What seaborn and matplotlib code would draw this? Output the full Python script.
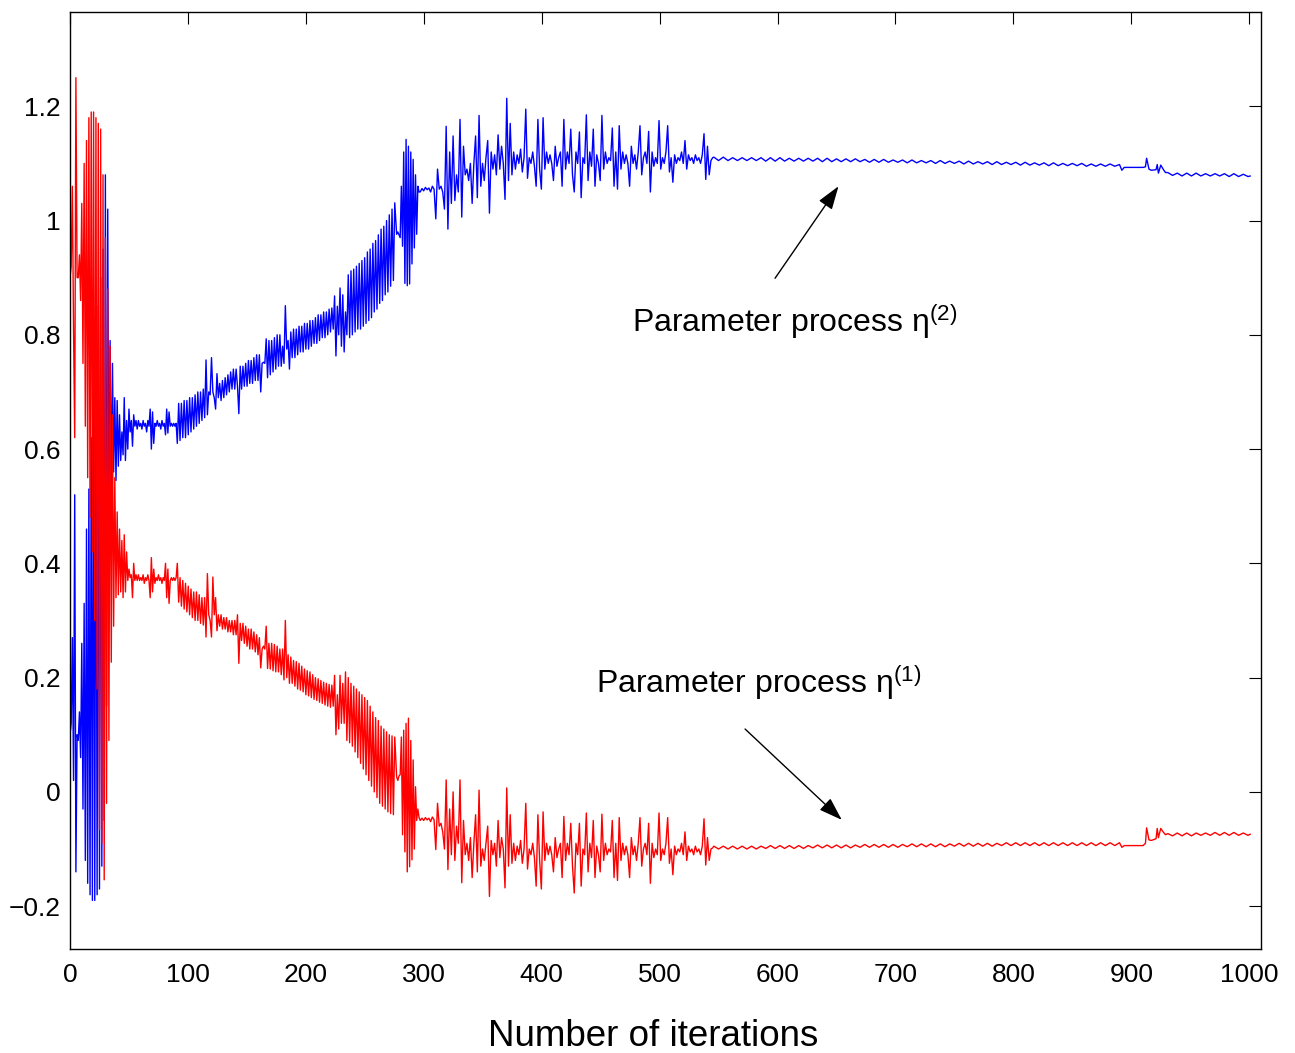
import numpy as np
import matplotlib.pyplot as plt
import seaborn as sns

# ---- values ----
# each stretch: (first iteration, last iteration) and the values sampled evenly across it

# start-up transient
span_a = (0, 36)
eta2_a = [0.10, 0.12, 0.27, 0.02, 0.52, -0.14, 0.10, 0.09, 0.14, 0.06,
          0.26, -0.03, 0.33, -0.12, 0.46, -0.16, 0.53, -0.18, 0.62, -0.19,
          0.70, -0.19, 0.78, -0.18, 0.85, -0.17, 0.90, -0.13, 0.95, -0.05,
          1.08, 0.15, 1.02, 0.40, 0.79, 0.50, 0.75]
eta1_a = [0.90, 0.92, 1.06, 0.81, 0.62, 1.25, 0.90, 0.90, 0.94, 0.86,
          1.03, 0.75, 1.10, 0.64, 1.14, 0.55, 1.18, 0.48, 1.19, 0.42,
          1.19, 0.30, 1.18, 0.18, 1.17, -0.066, 1.16, -0.09, 1.08, -0.154,
          0.97, -0.02, 0.88, 0.09, 0.78, 0.227, 0.66]

# settling plateau
span_b = (37, 90)
eta2_b = [0.56, 0.69, 0.545, 0.685, 0.57, 0.66, 0.58, 0.63, 0.59, 0.69,
          0.58, 0.65, 0.60, 0.67, 0.63, 0.65, 0.605, 0.66, 0.64, 0.65,
          0.635, 0.65, 0.64, 0.645, 0.635, 0.65, 0.64, 0.645, 0.63, 0.65,
          0.64, 0.67, 0.60, 0.665, 0.61, 0.645, 0.64, 0.65, 0.64, 0.645,
          0.635, 0.65, 0.64, 0.645, 0.625, 0.67, 0.628, 0.665, 0.64, 0.645,
          0.64, 0.645, 0.64, 0.645]
eta1_b = [0.29, 0.55, 0.34, 0.49, 0.345, 0.46, 0.35, 0.44, 0.34, 0.45,
          0.35, 0.42, 0.37, 0.39, 0.375, 0.38, 0.34, 0.40, 0.37, 0.38,
          0.37, 0.38, 0.37, 0.375, 0.37, 0.38, 0.365, 0.375, 0.37, 0.38,
          0.37, 0.34, 0.41, 0.35, 0.39, 0.365, 0.375, 0.37, 0.38, 0.37,
          0.375, 0.365, 0.375, 0.37, 0.40, 0.34, 0.39, 0.33, 0.37, 0.375,
          0.37, 0.375, 0.37, 0.375]

# drifting ramp
span_c = (91, 275.4)
eta2_c = [0.61, 0.68, 0.615, 0.68, 0.62, 0.685, 0.62, 0.685, 0.625, 0.69,
          0.63, 0.69, 0.635, 0.695, 0.64, 0.70, 0.645, 0.70, 0.65, 0.705,
          0.655, 0.756, 0.66, 0.70, 0.695, 0.76, 0.70, 0.69, 0.67, 0.732,
          0.69, 0.715, 0.685, 0.72, 0.69, 0.725, 0.695, 0.73, 0.70, 0.735,
          0.705, 0.74, 0.705, 0.74, 0.71, 0.662, 0.745, 0.705, 0.745, 0.71,
          0.75, 0.71, 0.755, 0.715, 0.755, 0.715, 0.76, 0.72, 0.765, 0.72,
          0.765, 0.70, 0.75, 0.752, 0.75, 0.793, 0.725, 0.79, 0.73, 0.79,
          0.735, 0.795, 0.74, 0.80, 0.745, 0.80, 0.745, 0.78, 0.75, 0.851,
          0.775, 0.79, 0.74, 0.805, 0.76, 0.81, 0.76, 0.81, 0.765, 0.815,
          0.77, 0.815, 0.77, 0.82, 0.775, 0.82, 0.775, 0.825, 0.78, 0.825,
          0.785, 0.83, 0.785, 0.835, 0.79, 0.835, 0.795, 0.84, 0.795, 0.84,
          0.80, 0.845, 0.805, 0.847, 0.81, 0.868, 0.763, 0.85, 0.80, 0.882,
          0.78, 0.87, 0.77, 0.84, 0.80, 0.905, 0.795, 0.912, 0.80, 0.915,
          0.805, 0.92, 0.81, 0.925, 0.81, 0.93, 0.815, 0.935, 0.82, 0.945,
          0.825, 0.95, 0.83, 0.96, 0.84, 0.965, 0.845, 0.975, 0.855, 0.985,
          0.86, 0.99, 0.87, 1.00, 0.875, 1.01, 0.885, 1.02, 0.895, 1.031]
eta1_c = [0.40, 0.332, 0.375, 0.325, 0.37, 0.32, 0.365, 0.315, 0.36, 0.31,
          0.355, 0.305, 0.35, 0.30, 0.35, 0.30, 0.345, 0.295, 0.34, 0.292,
          0.34, 0.271, 0.382, 0.31, 0.30, 0.271, 0.376, 0.31, 0.34, 0.282,
          0.31, 0.29, 0.31, 0.285, 0.305, 0.285, 0.305, 0.28, 0.30, 0.28,
          0.30, 0.275, 0.30, 0.275, 0.31, 0.225, 0.295, 0.265, 0.295, 0.26,
          0.29, 0.255, 0.285, 0.25, 0.285, 0.25, 0.28, 0.245, 0.275, 0.24,
          0.27, 0.217, 0.25, 0.255, 0.25, 0.29, 0.216, 0.26, 0.215, 0.26,
          0.212, 0.258, 0.21, 0.255, 0.21, 0.25, 0.205, 0.25, 0.196, 0.30,
          0.20, 0.24, 0.19, 0.236, 0.19, 0.23, 0.185, 0.228, 0.18, 0.225,
          0.178, 0.22, 0.175, 0.215, 0.17, 0.212, 0.168, 0.21, 0.165, 0.205,
          0.162, 0.20, 0.16, 0.198, 0.157, 0.195, 0.155, 0.192, 0.152, 0.19,
          0.15, 0.188, 0.148, 0.187, 0.15, 0.204, 0.10, 0.17, 0.11, 0.204,
          0.12, 0.19, 0.12, 0.21, 0.09, 0.20, 0.086, 0.19, 0.08, 0.185,
          0.07, 0.18, 0.06, 0.175, 0.05, 0.17, 0.04, 0.165, 0.03, 0.16,
          0.02, 0.15, 0.01, 0.14, 0.0, 0.13, -0.01, 0.125, -0.02, 0.115,
          -0.025, 0.11, -0.03, 0.105, -0.035, 0.10, -0.038, 0.098, -0.04, 0.096]

# large swing before the jump
span_d = (277, 296)
eta2_d = [0.976, 0.98, 0.975, 0.97, 1.06, 0.955, 1.12, 0.89, 1.142, 0.886,
          1.13, 0.889, 1.12, 0.924, 1.107, 0.952, 1.08, 0.976, 1.06, 1.05]
eta1_d = [0.026, 0.02, 0.028, 0.03, 0.096, -0.075, 0.108, -0.105, 0.12, -0.14,
          0.129, -0.131, 0.09, -0.119, 0.056, -0.10, 0.009, -0.05, -0.03, -0.045]

# noisy plateau
span_e = (297, 545)
eta2_e = [1.05, 1.056, 1.052, 1.058, 1.054, 1.057, 1.05, 1.06, 1.055, 1.003,
          1.09, 1.055, 1.06, 1.05, 1.02, 1.165, 0.985, 1.12, 1.03, 1.148,
          1.035, 1.08, 1.05, 1.177, 1.006, 1.13, 1.08, 1.09, 1.07, 1.10,
          1.03, 1.10, 1.148, 1.04, 1.184, 1.06, 1.10, 1.07, 1.11, 1.14,
          1.013, 1.12, 1.09, 1.115, 1.08, 1.15, 1.09, 1.13, 1.10, 1.037,
          1.214, 1.07, 1.17, 1.08, 1.12, 1.09, 1.115, 1.10, 1.125, 1.085,
          1.11, 1.195, 1.074, 1.11, 1.10, 1.12, 1.095, 1.06, 1.177, 1.09,
          1.055, 1.18, 1.09, 1.12, 1.10, 1.115, 1.10, 1.07, 1.13, 1.095,
          1.11, 1.12, 1.06, 1.177, 1.09, 1.12, 1.10, 1.16, 1.08, 1.05,
          1.12, 1.10, 1.155, 1.04, 1.11, 1.10, 1.185, 1.07, 1.12, 1.095,
          1.16, 1.06, 1.115, 1.10, 1.07, 1.184, 1.09, 1.12, 1.10, 1.11,
          1.105, 1.162, 1.06, 1.12, 1.055, 1.166, 1.09, 1.12, 1.10, 1.115,
          1.10, 1.06, 1.13, 1.10, 1.115, 1.09, 1.12, 1.166, 1.08, 1.11,
          1.12, 1.10, 1.156, 1.05, 1.12, 1.095, 1.11, 1.10, 1.175, 1.09,
          1.11, 1.10, 1.12, 1.166, 1.085, 1.11, 1.067, 1.115, 1.10, 1.11,
          1.105, 1.12, 1.10, 1.14, 1.09, 1.115, 1.105, 1.11, 1.10, 1.115,
          1.105, 1.11, 1.10, 1.115, 1.152, 1.072, 1.13, 1.08, 1.105, 1.11]
eta1_e = [-0.05, -0.046, -0.05, -0.045, -0.049, -0.046, -0.052, -0.044, -0.049, -0.101,
          -0.02, -0.06, -0.055, -0.07, -0.10, 0.021, -0.136, -0.03, -0.11, 0.0,
          -0.12, -0.06, -0.09, 0.021, -0.159, -0.05, -0.11, -0.09, -0.12, -0.08,
          -0.15, -0.09, -0.04, -0.14, 0.003, -0.13, -0.10, -0.12, -0.09, -0.06,
          -0.183, -0.085, -0.11, -0.09, -0.13, -0.05, -0.115, -0.08, -0.10, -0.168,
          0.007, -0.13, -0.04, -0.125, -0.09, -0.12, -0.095, -0.11, -0.085, -0.125,
          -0.10, -0.02, -0.135, -0.10, -0.11, -0.09, -0.115, -0.165, -0.04, -0.12,
          -0.17, -0.035, -0.12, -0.09, -0.11, -0.095, -0.11, -0.14, -0.08, -0.115,
          -0.10, -0.09, -0.15, -0.043, -0.12, -0.09, -0.11, -0.055, -0.13, -0.177,
          -0.09, -0.11, -0.055, -0.165, -0.10, -0.11, -0.037, -0.14, -0.09, -0.115,
          -0.05, -0.15, -0.095, -0.11, -0.14, -0.039, -0.12, -0.09, -0.11, -0.10,
          -0.105, -0.05, -0.15, -0.09, -0.155, -0.045, -0.12, -0.09, -0.11, -0.095,
          -0.11, -0.15, -0.08, -0.11, -0.095, -0.12, -0.09, -0.045, -0.13, -0.10,
          -0.09, -0.11, -0.055, -0.16, -0.09, -0.115, -0.10, -0.11, -0.037, -0.12,
          -0.10, -0.11, -0.09, -0.045, -0.125, -0.10, -0.145, -0.095, -0.11, -0.10,
          -0.105, -0.09, -0.11, -0.07, -0.12, -0.095, -0.105, -0.10, -0.11, -0.095,
          -0.105, -0.10, -0.11, -0.095, -0.047, -0.128, -0.08, -0.12, -0.10, -0.098]

# converged, small ripple
span_f = (546, 890)
eta2_f = [1.111, 1.105, 1.111, 1.105, 1.110, 1.105, 1.110, 1.105, 1.110, 1.105,
          1.110, 1.104, 1.110, 1.104, 1.110, 1.104, 1.109, 1.104, 1.109, 1.104,
          1.109, 1.104, 1.109, 1.103, 1.109, 1.103, 1.108, 1.103, 1.108, 1.103,
          1.108, 1.103, 1.107, 1.102, 1.107, 1.102, 1.107, 1.102, 1.106, 1.102,
          1.106, 1.101, 1.106, 1.101, 1.105, 1.101, 1.105, 1.100, 1.105, 1.100,
          1.104, 1.100, 1.104, 1.099, 1.104, 1.099, 1.103, 1.099, 1.103, 1.098,
          1.103, 1.098, 1.102, 1.098, 1.102, 1.097, 1.102, 1.097, 1.101, 1.097,
          1.101, 1.096, 1.101, 1.096, 1.100, 1.096, 1.100, 1.096, 1.100, 1.095,
          1.099, 1.095, 1.099, 1.095, 1.099, 1.095, 1.098]
eta1_f = [-0.095, -0.100, -0.095, -0.100, -0.095, -0.100, -0.095, -0.100, -0.095, -0.100,
          -0.095, -0.099, -0.094, -0.099, -0.094, -0.099, -0.094, -0.099, -0.094, -0.099,
          -0.094, -0.098, -0.093, -0.098, -0.093, -0.098, -0.093, -0.098, -0.093, -0.098,
          -0.093, -0.097, -0.092, -0.097, -0.092, -0.097, -0.092, -0.097, -0.092, -0.097,
          -0.092, -0.096, -0.091, -0.096, -0.091, -0.096, -0.091, -0.096, -0.091, -0.096,
          -0.091, -0.095, -0.090, -0.095, -0.090, -0.095, -0.090, -0.095, -0.090, -0.095,
          -0.090, -0.094, -0.089, -0.094, -0.089, -0.094, -0.089, -0.094, -0.089, -0.094,
          -0.089, -0.094, -0.089, -0.094, -0.089, -0.094, -0.089, -0.094, -0.089, -0.094,
          -0.089, -0.094, -0.089, -0.094, -0.089, -0.094, -0.089]

# tail with the small kick near 915
iters_g = [892, 894, 910, 912, 913, 915, 917, 921, 922, 923, 925, 927, 929,
           931, 935, 939, 943, 947, 951, 955, 959, 963, 967, 971, 975, 979,
           983, 987, 991, 995, 999, 1001]
eta2_g = [1.088, 1.093, 1.093, 1.094, 1.109, 1.090, 1.088, 1.089, 1.098, 1.083,
          1.097, 1.090, 1.084,
          1.084, 1.079, 1.083, 1.078, 1.083, 1.078, 1.083, 1.078, 1.082, 1.078,
          1.082, 1.078, 1.082, 1.077, 1.082, 1.077, 1.081, 1.077, 1.078]
eta1_g = [-0.097, -0.094, -0.094, -0.090, -0.063, -0.084, -0.085, -0.082, -0.064, -0.080,
          -0.064, -0.070, -0.075,
          -0.073, -0.077, -0.072, -0.077, -0.072, -0.077, -0.072, -0.076, -0.072, -0.076,
          -0.071, -0.076, -0.071, -0.076, -0.071, -0.076, -0.072, -0.076, -0.074]

x_ticks = [0, 100, 200, 300, 400, 500, 600, 700, 800, 900, 1000]
x_tick_labels = ['0', '100', '200', '300', '400', '500', '600', '700', '800', '900', '1000']
y_ticks = [-0.2, 0, 0.2, 0.4, 0.6, 0.8, 1.0, 1.2]
y_tick_labels = ['\u22120.2', '0', '0.2', '0.4', '0.6', '0.8', '1', '1.2']


def stretch(span, vals):
    # iteration numbers for values sampled evenly over a stretch
    return np.linspace(span[0], span[1], len(vals))


spans = [span_a, span_b, span_c, span_d, span_e, span_f]
eta2_parts = [eta2_a, eta2_b, eta2_c, eta2_d, eta2_e, eta2_f]
eta1_parts = [eta1_a, eta1_b, eta1_c, eta1_d, eta1_e, eta1_f]

x2 = np.concatenate([stretch(s, v) for s, v in zip(spans, eta2_parts)] + [np.array(iters_g, float)])
y2 = np.concatenate([np.array(v, float) for v in eta2_parts] + [np.array(eta2_g, float)])
x1 = np.concatenate([stretch(s, v) for s, v in zip(spans, eta1_parts)] + [np.array(iters_g, float)])
y1 = np.concatenate([np.array(v, float) for v in eta1_parts] + [np.array(eta1_g, float)])

# ---- styling ----
sns.set_theme(style="white")
plt.rcParams['font.family'] = ['Liberation Sans', 'DejaVu Sans']
plt.rcParams['mathtext.fontset'] = 'custom'
plt.rcParams['mathtext.rm'] = 'Liberation Sans'
plt.rcParams['mathtext.it'] = 'Liberation Sans'

fig = plt.figure(figsize=(12.95, 10.53), dpi=100)
ax = fig.add_axes([70 / 1295, 1 - 949 / 1053, 1191 / 1295, 937 / 1053])

sns.lineplot(x=x2, y=y2, color=(0, 0, 1), lw=1.0, estimator=None, sort=False, ax=ax)
sns.lineplot(x=x1, y=y1, color=(1, 0, 0), lw=1.0, estimator=None, sort=False, ax=ax)

ax.set_xlim(0, 1010)
ax.set_ylim(-0.275, 1.365)
ax.set_xticks(x_ticks)
ax.set_xticklabels(x_tick_labels)
ax.set_yticks(y_ticks)
ax.set_yticklabels(y_tick_labels)
ax.tick_params(axis='both', direction='in', length=8.5, width=0.8, colors='black',
               labelsize=19, top=True, right=True)
ax.tick_params(axis='x', pad=10)
ax.tick_params(axis='y', pad=7)
for sp in ax.spines.values():
    sp.set_color('black')
    sp.set_linewidth(1.0)

ax.set_xlabel('Number of iterations', fontsize=26.5, color='black', va='baseline')
ax.xaxis.set_label_coords(0.490, -0.1035)
ax.set_ylabel('')

# annotations
ax.text(476.7, 0.805, r'Parameter process $\mathregular{\eta^{(2)}}$', fontsize=23,
        ha='left', va='baseline', color='black')
ax.annotate('', xy=(651.7, 1.060), xytext=(597.9, 0.899),
            arrowprops=dict(arrowstyle='-|>,head_length=0.8,head_width=0.27',
                            mutation_scale=18, lw=1.0, color='black', shrinkA=0, shrinkB=0))
ax.text(446, 0.173, r'Parameter process $\mathregular{\eta^{(1)}}$', fontsize=23,
        ha='left', va='baseline', color='black')
ax.annotate('', xy=(654.5, -0.049), xytext=(572.5, 0.110),
            arrowprops=dict(arrowstyle='-|>,head_length=0.8,head_width=0.27',
                            mutation_scale=18, lw=1.0, color='black', shrinkA=0, shrinkB=0))

fig.savefig('out.png', dpi=100)
plt.close(fig)
